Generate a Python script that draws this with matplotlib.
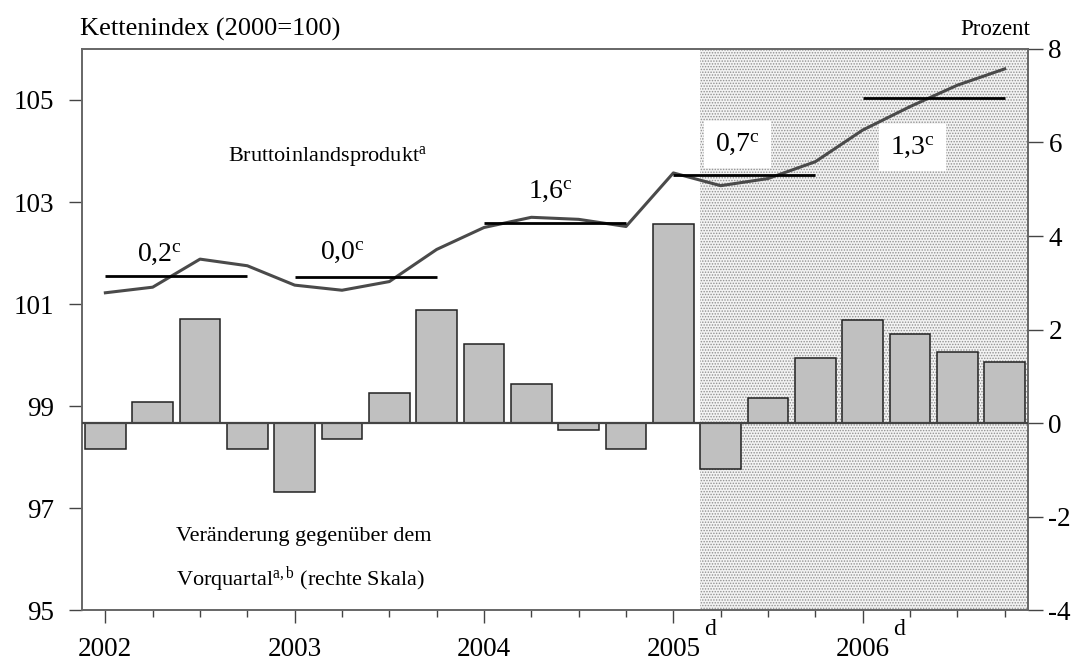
import matplotlib

matplotlib.use("Agg")
import matplotlib.pyplot as plt
import numpy as np

plt.rcParams["font.family"] = ["Liberation Serif", "DejaVu Serif"]
plt.rcParams["mathtext.fontset"] = "custom"
plt.rcParams["mathtext.rm"] = "Liberation Serif"
plt.rcParams["mathtext.it"] = "Liberation Serif"
plt.rcParams["hatch.color"] = "#909090"
plt.rcParams["hatch.linewidth"] = 0.7

# quarterly data 2002Q1 .. 2006Q4
years = ["2002", "2003", "2004", "2005", "2006"]
gdp_index = [101.22, 101.33, 101.88, 101.75,
             101.37, 101.27, 101.44, 102.07,
             102.50, 102.70, 102.66, 102.52,
             103.57, 103.32, 103.46, 103.79,
             104.41, 104.87, 105.29, 105.61]
qoq_change = [-0.55, 0.44, 2.22, -0.55,
              -1.48, -0.35, 0.64, 2.41,
              1.70, 0.83, -0.15, -0.55,
              4.25, -0.98, 0.53, 1.40,
              2.20, 1.90, 1.52, 1.30]
annual_growth = ["0,2", "0,0", "1,6", "0,7", "1,3"]
forecast_start = 12.56  # quarter index where the projection begins

q = np.arange(len(gdp_index))
annual_mean = np.array(gdp_index).reshape(5, 4).mean(axis=1)

fig = plt.figure(figsize=(10.82, 6.62), dpi=100)
ax = fig.add_axes([0.0755, 0.0785, 0.8749, 0.8475])
ax2 = ax.twinx()

ax.set_xlim(-0.5, 19.5)
ax.set_ylim(95, 106)
ax2.set_ylim(-4, 8)

# projection period, dotted background
ax.axvspan(forecast_start, 19.5, facecolor="#f3f3f3", edgecolor="#909090",
           hatch="......", linewidth=0, zorder=0)

# chain index and yearly averages
ax.plot(q, gdp_index, color="#4a4a4a", lw=2.2, zorder=3)
for i, m in enumerate(annual_mean):
    ax.hlines(m, 4 * i, 4 * i + 3, color="black", lw=2, zorder=4)

# quarter-on-quarter change on the right scale
ax2.bar(q, qoq_change, width=0.86, color="#c0c0c0", edgecolor="#222222",
        linewidth=1.1, zorder=2)
ax2.axhline(0, color="#444444", lw=1.6, zorder=3)

label_pos = [(1.15, 101.97), (5.0, 102.02), (9.4, 103.2), (13.35, 104.13), (17.05, 104.07)]
for i, (txt, (x, y)) in enumerate(zip(annual_growth, label_pos)):
    box = dict(facecolor="white", edgecolor="none", pad=8) if i >= 3 else None
    ax.text(x, y, txt + r"$^{\mathrm{c}}$", fontsize=20, ha="center", va="center",
            bbox=box, zorder=5)

ax.text(2.6, 103.9, r"Bruttoinlandsprodukt$^{\mathrm{a}}$", fontsize=16,
        ha="left", va="center")
ax.text(1.5, 96.45, "Veränderung gegenüber dem", fontsize=16, ha="left", va="center")
ax.text(1.5, 95.6, r"Vorquartal$^{\mathrm{a,b}}$ (rechte Skala)", fontsize=16,
        ha="left", va="center")

fig.text(0.0735, 0.955, "Kettenindex (2000=100)", fontsize=19, ha="left", va="center")
fig.text(0.952, 0.955, "Prozent", fontsize=16.5, ha="right", va="center")

# axes styling
for a in (ax, ax2):
    for s in a.spines.values():
        s.set_color("#666666")
        s.set_linewidth(1.2)
ax.set_xticks(np.arange(0, 20, 4))
ax.set_xticklabels(years)
ax.set_xticks(q, minor=True)
ax.tick_params(axis="x", which="major", length=9.5, width=1, color="#444444",
               labelsize=19.5, pad=10)
ax.tick_params(axis="x", which="minor", length=5, width=1, color="#444444")
for x in (12, 16):
    ax.text(x + 0.77, -0.034, "d", transform=ax.get_xaxis_transform(),
            fontsize=17, ha="center", va="center")

ax.set_yticks([95, 97, 99, 101, 103, 105])
ax.tick_params(axis="y", length=9.5, width=1, color="#444444", labelsize=19.5, pad=10)
ax2.set_yticks([-4, -2, 0, 2, 4, 6, 8])
ax2.set_yticklabels(["-4", "-2", "0", "2", "4", "6", "8"])
ax2.tick_params(axis="y", length=10.5, width=1, color="#444444", labelsize=19.5, pad=4)

fig.savefig("out.png", dpi=100)
